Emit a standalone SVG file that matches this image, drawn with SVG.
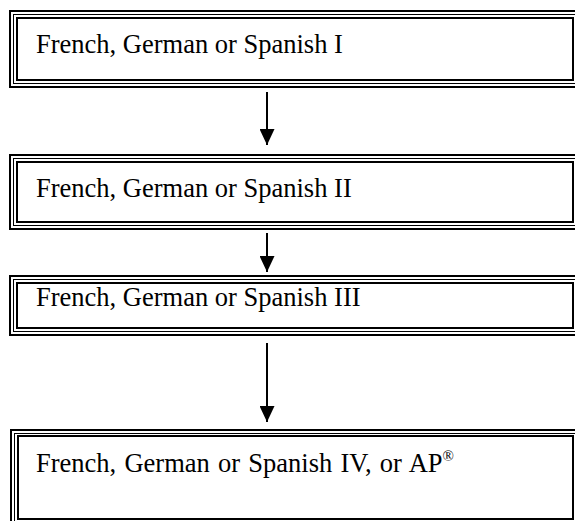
<svg xmlns="http://www.w3.org/2000/svg" width="575" height="521" viewBox="0 0 575 521">
  <style>
    .thick { fill: none; stroke: #000; stroke-width: 2; }
    .thin { fill: none; stroke: #000; stroke-width: 1; }
    .label { font-family: "Liberation Serif", "Times New Roman", serif; font-size: 26.5px; fill: #000; }
    .sup { font-size: 15px; }
    .conn { stroke: #000; stroke-width: 2; fill: none; }
  </style>
  <defs>
    <marker id="head" viewBox="0 0 16 15" refX="16" refY="7.5" markerWidth="16" markerHeight="15" markerUnits="userSpaceOnUse" orient="auto">
      <path d="M0,0 L16,7.5 L0,15 Z" fill="#000"/>
    </marker>
  </defs>
  <rect width="575" height="521" fill="#fff"/>

  <g id="level1">
    <rect class="thick" x="10" y="11" width="580" height="76"/>
    <rect class="thin" x="13.5" y="14.5" width="580" height="69"/>
    <rect class="thick" x="17" y="18" width="556" height="62"/>
    <text class="label" x="36" y="53">French, German or Spanish I</text>
  </g>

  <g id="level2">
    <rect class="thick" x="10" y="155" width="580" height="74"/>
    <rect class="thin" x="13.5" y="158.5" width="580" height="67"/>
    <rect class="thick" x="17" y="162" width="556" height="60"/>
    <text class="label" x="36" y="197">French, German or Spanish II</text>
  </g>

  <g id="level3">
    <rect class="thick" x="10" y="276" width="580" height="59"/>
    <rect class="thin" x="13.5" y="279.5" width="580" height="52"/>
    <rect class="thick" x="17" y="283" width="556" height="45"/>
    <text class="label" x="36" y="306">French, German or Spanish III</text>
  </g>

  <g id="level4">
    <rect class="thick" x="11" y="430" width="580" height="96"/>
    <rect class="thin" x="14.5" y="433.5" width="580" height="96"/>
    <rect class="thick" x="18" y="436" width="555" height="83"/>
    <text class="label" x="36" y="472" word-spacing="1.6">French, German or Spanish IV, or AP<tspan class="sup" dy="-11">®</tspan></text>
  </g>

  <g id="connectors">
    <line class="conn" x1="267" y1="92" x2="267" y2="145" marker-end="url(#head)"/>
    <line class="conn" x1="267" y1="233" x2="267" y2="272" marker-end="url(#head)"/>
    <line class="conn" x1="267" y1="343" x2="267" y2="422" marker-end="url(#head)"/>
  </g>
</svg>
